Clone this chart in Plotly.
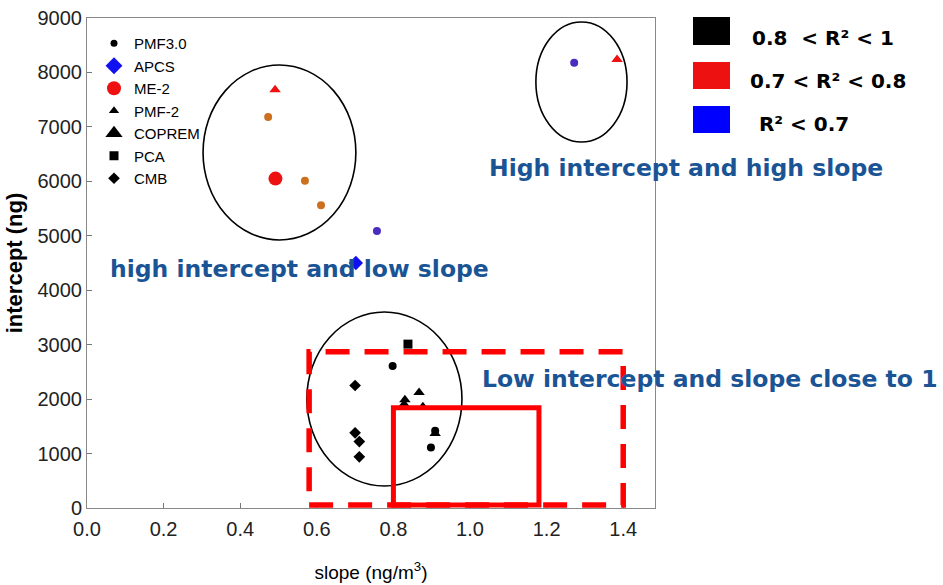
import plotly.graph_objects as go

# ---- data: slope / intercept of each source-apportionment result ----
ORANGE = "#CC7020"
PURPLE = "#4A2CBE"
BLACK = "#000000"
RED = "#EE1111"
BLUE = "#1010F0"

pmf30_x = [0.473, 0.569, 0.611, 0.757, 1.272, 0.798, 0.909, 0.898]
pmf30_y = [7180, 6010, 5560, 5090, 8180, 2610, 1420, 1110]
pmf30_c = [ORANGE, ORANGE, ORANGE, PURPLE, PURPLE, BLACK, BLACK, BLACK]

apcs_x = [0.702]
apcs_y = [4500]
apcs_c = [BLUE]

me2_x = [0.492]
me2_y = [6050]
me2_c = [RED]

pmf2_x = [0.491, 1.384, 0.867, 0.830, 0.877, 0.909]
pmf2_y = [7680, 8240, 2120, 1990, 1860, 1370]
pmf2_c = [RED, RED, BLACK, BLACK, BLACK, BLACK]

coprem_x = [0.828]
coprem_y = [1870]
coprem_c = [BLACK]

pca_x = [0.838]
pca_y = [3010]
pca_c = [BLACK]

cmb_x = [0.700, 0.700, 0.711, 0.711]
cmb_y = [2250, 1380, 1220, 940]
cmb_c = [BLACK, BLACK, BLACK, BLACK]

x_ticks = [0.0, 0.2, 0.4, 0.6, 0.8, 1.0, 1.2, 1.4]
y_ticks = [0, 1000, 2000, 3000, 4000, 5000, 6000, 7000, 8000, 9000]

r2_labels = ["0.8  < R\u00b2 < 1", "0.7 < R\u00b2 < 0.8", " R\u00b2 < 0.7"]
r2_colors = [BLACK, RED, "#0000FF"]

# ---- figure geometry ----
W, H = 943, 585
ML, MR, MT, MB = 87, 288, 18, 77
PW, PH = W - ML - MR, H - MT - MB


def px_x(px):
    return (px - ML) / PW


def px_y(py):
    return (H - MB - py) / PH


methods = [
    # name, xs, ys, colors, symbol, size, legend colour, legend size
    ("PMF3.0", pmf30_x, pmf30_y, pmf30_c, "circle", 8, BLACK, 7),
    ("APCS", apcs_x, apcs_y, apcs_c, "diamond", 11, BLUE, 13),
    ("ME-2", me2_x, me2_y, me2_c, "circle", 14, RED, 14),
    ("PMF-2", pmf2_x, pmf2_y, pmf2_c, "triangle-up", 10, BLACK, 9),
    ("COPREM", coprem_x, coprem_y, coprem_c, "triangle-up", 14, BLACK, 15),
    ("PCA", pca_x, pca_y, pca_c, "square", 9, BLACK, 9),
    ("CMB", cmb_x, cmb_y, cmb_c, "diamond", 9, BLACK, 9),
]

fig = go.Figure()

for name, xs, ys, cs, sym, size, lc, ls in methods:
    fig.add_trace(go.Scatter(
        x=xs, y=ys, mode="markers", name=name, showlegend=False,
        marker=dict(symbol=sym, size=size, color=cs, line=dict(width=0)),
        cliponaxis=False,
    ))

for name, xs, ys, cs, sym, size, lc, ls in methods:
    fig.add_trace(go.Scatter(
        x=[None], y=[None], mode="markers", name=name,
        marker=dict(symbol=sym, size=ls, color=lc, line=dict(width=0)),
    ))

shapes = []
# grouping ellipses
for x0, x1, y0, y1 in [(0.303, 0.702, 4923, 8137),
                       (1.172, 1.410, 6723, 8927),
                       (0.574, 0.979, 404, 3600)]:
    shapes.append(dict(type="circle", xref="x", yref="y", x0=x0, x1=x1,
                       y0=y0, y1=y1, line=dict(color="black", width=1.6)))

# target zones
shapes.append(dict(type="rect", xref="x", yref="y", x0=0.58, x1=1.4,
                   y0=55, y1=2870, layer="above",
                   line=dict(color="#FF0000", width=5.5, dash="24px,15px")))
shapes.append(dict(type="rect", xref="x", yref="y", x0=0.8, x1=1.18,
                   y0=55, y1=1840, layer="above",
                   line=dict(color="#FF0000", width=5)))

# R² colour key
for (py0, py1), col in zip([(17, 45), (62, 89), (106, 133)], r2_colors):
    shapes.append(dict(type="rect", xref="paper", yref="paper",
                       x0=px_x(693), x1=px_x(730), y0=px_y(py1), y1=px_y(py0),
                       fillcolor=col, line=dict(width=0)))

annotations = []
BLUE_TEXT = "#1B5495"
TFONT = dict(family="DejaVu Sans", size=23.5, color=BLUE_TEXT)
for text, lx, cy in [("high intercept and low slope", 108, 269),
                     ("High intercept and high slope", 487, 168),
                     ("Low intercept and slope close to 1", 480, 379)]:
    annotations.append(dict(text="<b>%s</b>" % text, xref="paper", yref="paper",
                            x=px_x(lx), y=px_y(cy), xanchor="left",
                            yanchor="middle", showarrow=False, font=TFONT))

for text, lx, cy in zip(r2_labels, [750, 748, 750], [38, 81, 124]):
    annotations.append(dict(text="<b>%s</b>" % text, xref="paper", yref="paper",
                            x=px_x(lx), y=px_y(cy), xanchor="left",
                            yanchor="middle", showarrow=False,
                            font=dict(family="DejaVu Sans", size=20, color="black")))

AXFONT = dict(family="Liberation Sans", size=20, color="#222222")

fig.update_layout(
    width=W, height=H,
    margin=dict(l=ML, r=MR, t=MT, b=MB, pad=0),
    paper_bgcolor="white", plot_bgcolor="white",
    shapes=shapes, annotations=annotations,
    showlegend=True,
    legend=dict(x=px_x(94), y=px_y(27), xanchor="left", yanchor="top",
                bgcolor="rgba(0,0,0,0)", itemsizing="trace",
                font=dict(family="Liberation Sans", size=15, color="black"),
                tracegroupgap=0),
    xaxis=dict(range=[0, 1.483], tickvals=x_ticks,
               ticktext=["%.1f" % v for v in x_ticks],
               ticks="inside", ticklen=5, tickcolor="#777777",
               showline=True, linecolor="#888888", linewidth=1, mirror=True,
               showgrid=False, zeroline=False, tickfont=AXFONT,
               ticklabelstandoff=3, automargin=False,
               title=dict(text="slope (ng/m<sup>3</sup>)", standoff=26,
                          font=dict(family="Liberation Sans", size=19, color="black"))),
    yaxis=dict(range=[0, 9000], tickvals=y_ticks,
               ticks="inside", ticklen=5, tickcolor="#777777",
               showline=True, linecolor="#888888", linewidth=1, mirror=True,
               showgrid=False, zeroline=False, tickfont=AXFONT,
               automargin=False,
               title=dict(text="<b>intercept (ng)</b>", standoff=8,
                          font=dict(family="Liberation Sans", size=22, color="black"))),
)

fig.write_html("out.html")
